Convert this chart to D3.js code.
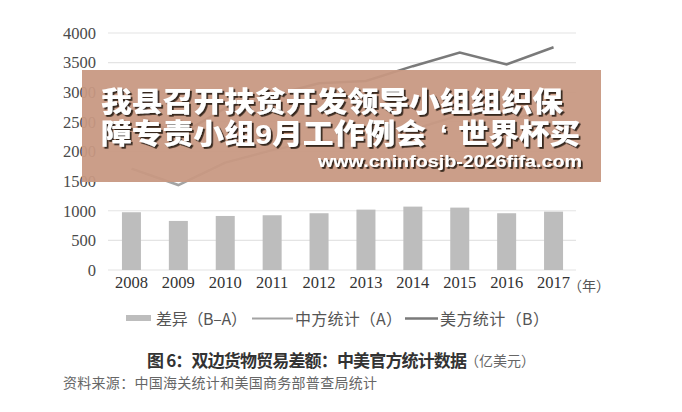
<!DOCTYPE html>
<html><head><meta charset="utf-8">
<script src="https://cdn.jsdelivr.net/npm/d3@7"></script>
<style>body{margin:0;background:#fff}svg{display:block}</style>
</head><body>
<script>
const years = ["2008","2009","2010","2011","2012","2013","2014","2015","2016","2017"];
const chinaStat = [1710, 1434, 1813, 2023, 2189, 2159, 2370, 2614, 2507, 2758]; // 中方统计（A）
const usStat = [2680, 2270, 2730, 2950, 3150, 3190, 3440, 3670, 3470, 3760];    // 美方统计（B）
const diff = [975, 828, 912, 924, 958, 1019, 1070, 1053, 958, 985];             // 差异（B–A）
const yTicks = [0, 500, 1000, 1500, 2000, 2500, 3000, 3500, 4000];
const legendLabels = ["差异（B–A）", "中方统计（A）", "美方统计（B）"];
const titleText = "图 6：双边货物贸易差额：中美官方统计数据";
const unitText = "（亿美元）";
const sourceText = "资料来源：中国海关统计和美国商务部普查局统计";
const bannerLine1 = "我县召开扶贫开发领导小组组织保";
const bannerLine2 = ["障专责小组9月工作例会", "‘", "世界杯买"];
const bannerUrl = "www.cninfosjb-2026fifa.com";

const W = 682, H = 412;
const svg = d3.select("body").append("svg").attr("width", W).attr("height", H);
const serif = "'Liberation Serif','Times New Roman',serif";
const cjk = "'Noto Sans CJK SC','Noto Sans',sans-serif";
const bannerFont = "'Liberation Sans','Noto Sans CJK SC',sans-serif";

const defs = svg.append("defs");
defs.append("filter").attr("id", "sh").attr("x", "-5%").attr("y", "-20%").attr("width", "110%").attr("height", "140%")
  .append("feDropShadow").attr("dx", 1.8).attr("dy", 1.8).attr("stdDeviation", 0.4)
  .attr("flood-color", "#35261f").attr("flood-opacity", 1);

const x = d3.scaleBand().domain(years).range([108, 577]).paddingInner(0.6).paddingOuter(0.3);
const y = d3.scaleLinear().domain([0, 4000]).range([270, 33]);
const cx = d => x(d) + x.bandwidth() / 2;

// grid
svg.append("g").selectAll("line").data(yTicks).join("line")
  .attr("x1", 108).attr("x2", 576)
  .attr("y1", d => y(d)).attr("y2", d => y(d))
  .attr("stroke", "#e4e4e4").attr("stroke-width", 1.2);

// y axis labels
const yAxis = d3.axisLeft(y).tickValues(yTicks).tickFormat(d3.format("d")).tickSize(0).tickPadding(0);
const gy = svg.append("g").attr("transform", "translate(96,0)").call(yAxis);
gy.select(".domain").remove();
gy.selectAll("text").attr("font-family", serif).attr("font-size", 16.5).attr("fill", "#4a4a4a");

// x axis labels
const xAxis = d3.axisBottom(x).tickSize(0).tickPadding(0);
const gx = svg.append("g").attr("transform", "translate(0,276)").call(xAxis);
gx.select(".domain").remove();
gx.selectAll("text").attr("font-family", serif).attr("font-size", 16.5).attr("fill", "#333").attr("dy", "0.71em");
svg.append("text").attr("x", 568).attr("y", 285).attr("dominant-baseline", "central")
  .attr("font-family", cjk).attr("font-size", 14).attr("fill", "#555").text("（年）");

// bars
svg.append("g").selectAll("rect").data(diff).join("rect")
  .attr("x", (d, i) => cx(years[i]) - 9.5).attr("width", 19)
  .attr("y", d => y(d)).attr("height", d => y(0) - y(d))
  .attr("fill", "#bdbdbd");

// lines
const line = d3.line().x((d, i) => cx(years[i])).y(d => y(d));
svg.append("path").datum(chinaStat).attr("d", line).attr("fill", "none")
  .attr("stroke", "#a3a3a3").attr("stroke-width", 2.5);
svg.append("path").datum(usStat).attr("d", line).attr("fill", "none")
  .attr("stroke", "#7a7a7a").attr("stroke-width", 2.5);

// legend
const lg = svg.append("g").attr("font-family", cjk).attr("font-size", 16).attr("fill", "#555");
lg.append("rect").attr("x", 126).attr("y", 315).attr("width", 25).attr("height", 6).attr("fill", "#bdbdbd");
lg.append("text").attr("x", 156).attr("y", 318).attr("dominant-baseline", "central").text(legendLabels[0]).attr("textLength", 91);
lg.append("line").attr("x1", 252).attr("x2", 293).attr("y1", 318.5).attr("y2", 318.5).attr("stroke", "#a3a3a3").attr("stroke-width", 2);
lg.append("text").attr("x", 295).attr("y", 318).attr("dominant-baseline", "central").text(legendLabels[1]).attr("textLength", 107);
lg.append("line").attr("x1", 405).attr("x2", 438).attr("y1", 318.5).attr("y2", 318.5).attr("stroke", "#7a7a7a").attr("stroke-width", 2.5);
lg.append("text").attr("x", 440).attr("y", 318).attr("dominant-baseline", "central").text(legendLabels[2]).attr("textLength", 109);

// title
svg.append("text").attr("x", 147).attr("y", 359).attr("dominant-baseline", "central")
  .attr("font-family", cjk).attr("font-size", 17).attr("font-weight", 700).attr("fill", "#333")
  .text(titleText).attr("textLength", 320);
svg.append("text").attr("x", 465).attr("y", 360).attr("dominant-baseline", "central")
  .attr("font-family", cjk).attr("font-size", 14).attr("fill", "#666")
  .text(unitText);
svg.append("text").attr("x", 63).attr("y", 382).attr("dominant-baseline", "central")
  .attr("font-family", cjk).attr("font-size", 14).attr("fill", "#666")
  .text(sourceText).attr("textLength", 314);

// overlay banner
const bn = svg.append("g");
bn.append("rect").attr("x", 82).attr("y", 70).attr("width", 519).attr("height", 112)
  .attr("fill", "rgb(200,152,130)").attr("opacity", 0.94);
const base = sel => sel.attr("dominant-baseline", "central").attr("font-family", bannerFont)
  .attr("fill", "#ffffff").attr("filter", "url(#sh)");
bn.append("text").call(base).attr("x", 101).attr("y", 102).attr("font-size", 28).attr("font-weight", 900)
  .attr("textLength", 462).attr("lengthAdjust", "spacingAndGlyphs").text(bannerLine1);
const t2 = bn.append("text").call(base).attr("x", 101).attr("y", 134).attr("font-size", 28).attr("font-weight", 900);
t2.append("tspan").attr("textLength", 325).attr("lengthAdjust", "spacingAndGlyphs").text(bannerLine2[0]);
t2.append("tspan").attr("x", 440).text(bannerLine2[1]);
t2.append("tspan").attr("x", 458).attr("textLength", 122).attr("lengthAdjust", "spacingAndGlyphs").text(bannerLine2[2]);
bn.append("text").call(base).attr("x", 318).attr("y", 161).attr("font-size", 17).attr("font-weight", 700)
  .attr("textLength", 264).attr("lengthAdjust", "spacingAndGlyphs").text(bannerUrl);
</script>
</body></html>
